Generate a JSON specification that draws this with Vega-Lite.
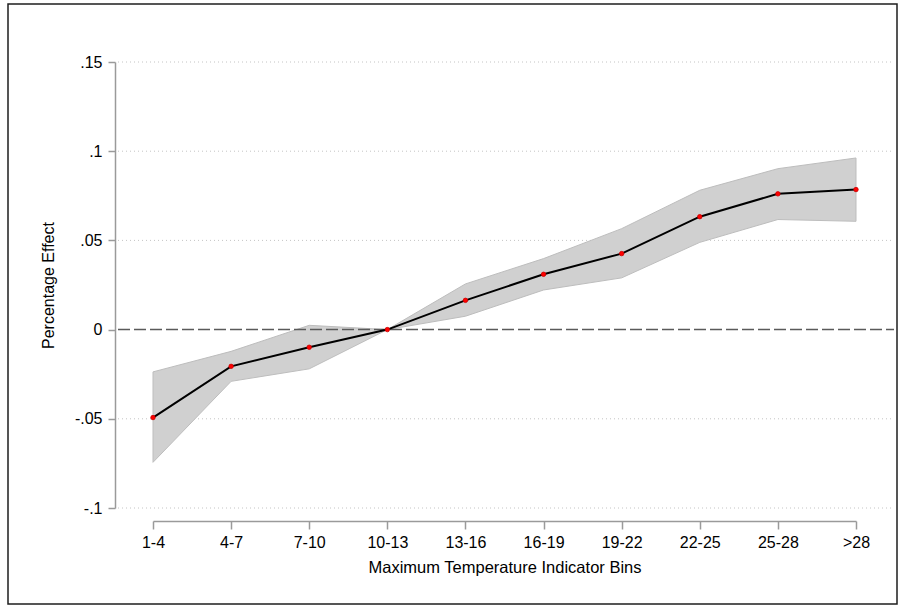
{
  "$schema": "https://vega.github.io/schema/vega-lite/v6.json",
  "width": 889,
  "height": 600,
  "autosize": {"type": "none"},
  "padding": {"left": 8, "top": 4, "right": 7, "bottom": 4},
  "background": "white",
  "config": {
    "view": {"stroke": "#1e1e1e", "strokeWidth": 1.5},
    "font": "Liberation Sans",
    "axisY": {
      "orient": "left", "offset": -107, "title": "Percentage Effect",
      "tickCount": 5,
      "labelExpr": "(datum.value < 0 ? '-' : '') + replace(format(abs(datum.value), '.2~f'), '0.', '.')",
      "grid": false, "labelFlush": false, "labelOverlap": false,
      "domainColor": "#9a9a9a", "domainWidth": 1.5, "tickColor": "#9a9a9a", "tickWidth": 1.5,
      "tickSize": 7, "labelPadding": 6, "labelFontSize": 16, "labelColor": "#000", "labelFont": "Liberation Sans",
      "titleFontSize": 16, "titleFontWeight": "normal", "titleColor": "#000", "titleFont": "Liberation Sans",
      "titlePadding": 18
    }
  },
  "datasets": {
    "est": [
      {"bin": "1-4", "est": -0.0493, "lo": -0.0744, "hi": -0.0237},
      {"bin": "4-7", "est": -0.0206, "lo": -0.0290, "hi": -0.0122},
      {"bin": "7-10", "est": -0.0099, "lo": -0.0220, "hi": 0.0024},
      {"bin": "10-13", "est": 0.0, "lo": 0.0, "hi": 0.0},
      {"bin": "13-16", "est": 0.0164, "lo": 0.0075, "hi": 0.0256},
      {"bin": "16-19", "est": 0.0310, "lo": 0.0222, "hi": 0.0398},
      {"bin": "19-22", "est": 0.0426, "lo": 0.0290, "hi": 0.0566},
      {"bin": "22-25", "est": 0.0633, "lo": 0.0489, "hi": 0.0781},
      {"bin": "25-28", "est": 0.0761, "lo": 0.0617, "hi": 0.0902},
      {"bin": ">28", "est": 0.0785, "lo": 0.0607, "hi": 0.0962}
    ],
    "grid": [{"v": 0.15}, {"v": 0.1}, {"v": 0.05}, {"v": -0.05}, {"v": -0.1}],
    "zero": [{"v": 0}]
  },
  "layer": [
    {
      "data": {"name": "grid"},
      "mark": {"type": "rule", "color": "#c4c4c4", "strokeDash": [1, 3], "strokeWidth": 1},
      "encoding": {
        "x": {"datum": 0, "type": "quantitative", "scale": {"domain": [0, 1], "range": [110, 886]}, "axis": null},
        "x2": {"datum": 1},
        "y": {"field": "v", "type": "quantitative", "title": "Percentage Effect",
          "scale": {"domain": [-0.1, 0.15], "range": [504, 58], "nice": false, "zero": false}}
      }
    },
    {
      "data": {"name": "est"},
      "mark": {"type": "area", "color": "#d0d0d0", "opacity": 1, "stroke": "#bdbdbd", "strokeWidth": 1},
      "encoding": {
        "x": {"field": "bin", "type": "ordinal", "sort": null, "scale": {"type": "point", "range": [145, 848], "padding": 0}, "axis": null},
        "y": {"field": "lo", "type": "quantitative", "title": "Percentage Effect",
          "scale": {"domain": [-0.1, 0.15], "range": [504, 58], "nice": false, "zero": false}},
        "y2": {"field": "hi"}
      }
    },
    {
      "data": {"name": "zero"},
      "mark": {"type": "rule", "color": "#5a5a5a", "strokeDash": [12, 4], "strokeWidth": 1.5},
      "encoding": {
        "x": {"datum": 0, "type": "quantitative", "scale": {"domain": [0, 1], "range": [110, 886]}, "axis": null},
        "x2": {"datum": 1},
        "y": {"field": "v", "type": "quantitative", "title": "Percentage Effect",
          "scale": {"domain": [-0.1, 0.15], "range": [504, 58], "nice": false, "zero": false}}
      }
    },
    {
      "data": {"name": "est"},
      "encoding": {
        "x": {
          "field": "bin", "type": "ordinal", "sort": null,
          "scale": {"type": "point", "range": [145, 848], "padding": 0},
          "axis": {
            "orient": "bottom", "offset": -83, "title": "Maximum Temperature Indicator Bins",
            "grid": false, "labelAngle": 0, "domainColor": "#9a9a9a", "domainWidth": 1.5,
            "tickColor": "#9a9a9a", "tickWidth": 1.5, "tickSize": 8, "labelPadding": 5,
            "labelFontSize": 16, "labelColor": "#000", "labelFont": "Liberation Sans",
            "titleFontSize": 16.5, "titleFontWeight": "normal", "titleColor": "#000", "titleFont": "Liberation Sans",
            "titlePadding": 9
          }
        },
        "y": {"field": "est", "type": "quantitative", "title": "Percentage Effect",
          "scale": {"domain": [-0.1, 0.15], "range": [504, 58], "nice": false, "zero": false}}
      },
      "layer": [
        {"mark": {"type": "line", "color": "#000000", "strokeWidth": 2}},
        {"mark": {"type": "point", "filled": true, "color": "#ff0000", "size": 20, "opacity": 1, "stroke": "#cc0000", "strokeWidth": 0.8}}
      ]
    }
  ],
  "resolve": {"scale": {"x": "independent"}}
}
